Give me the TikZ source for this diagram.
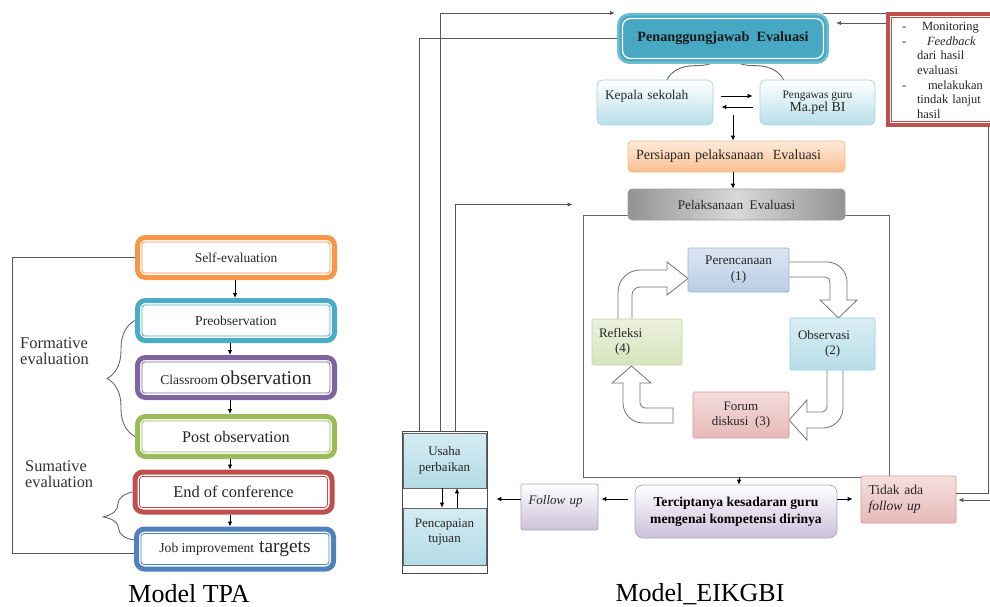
\documentclass[tikz,border=0pt]{standalone}
\usepackage{fontspec}
\setmainfont{Liberation Serif}
\usetikzlibrary{arrows.meta,decorations.pathreplacing}
\definecolor{oOrange}{HTML}{F79646}
\definecolor{oTeal}{HTML}{4BACC6}
\definecolor{oPurple}{HTML}{8064A2}
\definecolor{oGreen}{HTML}{9BBB59}
\definecolor{oRed}{HTML}{C0504D}
\definecolor{oBlue}{HTML}{4F81BD}
\definecolor{penFill}{HTML}{47A8C3}
\definecolor{kepB}{HTML}{B7DEE8}
\definecolor{kepD}{HTML}{A5D5E2}
\definecolor{perT}{HTML}{FDEADA}
\definecolor{perB}{HTML}{FAC090}
\definecolor{perD}{HTML}{F9B880}
\definecolor{terB}{HTML}{CCC0DA}
\definecolor{terD}{HTML}{B3A2C7}
\definecolor{tidT}{HTML}{F5E0DF}
\definecolor{tidB}{HTML}{E6B9B8}
\definecolor{tidD}{HTML}{D99694}
\definecolor{plT}{HTML}{DCE6F2}
\definecolor{plB}{HTML}{B9CDE5}
\definecolor{plD}{HTML}{95B3D7}
\definecolor{obT}{HTML}{DAEEF3}
\definecolor{obB}{HTML}{B7DEE8}
\definecolor{obD}{HTML}{93CDDD}
\definecolor{fdT}{HTML}{F2DCDB}
\definecolor{fdB}{HTML}{E6B9B8}
\definecolor{fdD}{HTML}{D99694}
\definecolor{rfT}{HTML}{EBF1DE}
\definecolor{rfB}{HTML}{D7E4BD}
\definecolor{rfD}{HTML}{C3D69B}
\definecolor{usT}{HTML}{D6ECF3}
\definecolor{usB}{HTML}{B2DBE6}
\newcommand\setfs[2]{\fontsize{#1}{#2}\selectfont}
\tikzset{
  arr/.style={-{Latex[length=5pt,width=4.5pt]}, line width=0.8pt, black},
  conn/.style={line width=0.9pt, black!65},
  arrc/.style={conn, -{Latex[length=5pt,width=4.5pt]}},
  tpabox/.style={draw, line width=5pt, rounded corners=8pt, minimum width=197pt,
    minimum height=40pt, fill=white, inner sep=0pt, text=black!85},
  gbox/.style={rounded corners=5pt, line width=0.7pt, inner sep=0pt, text=black!85},
  blk/.style={draw=black!55, fill=white, line width=0.8pt},
  brc/.style={decorate, decoration={brace, amplitude=#1}, line width=0.9pt, black!60},
}
\newcommand\tpabox[5]{%
  \node[tpabox, draw=#2] (#1) at (#3,#4) {#5};
  \draw[#2, line width=0.8pt, rounded corners=3pt]
    ([shift={(7pt,-7pt)}]#1.north west) rectangle ([shift={(-7pt,7pt)}]#1.south east);}
\begin{document}
\begin{tikzpicture}[x=1pt,y=-1pt]
\useasboundingbox (0,0) rectangle (990,607);

% ================= Model TPA =================
\tpabox{self}{oOrange}{236}{257.5}{\setfs{13.5}{15}Self-evaluation}
\tpabox{pre}{oTeal}{236}{320.5}{\setfs{13.6}{15}Preobservation}
\tpabox{cls}{oPurple}{236}{377.5}{{\setfs{13.5}{15}Classroom} {\setfs{19.5}{21}observation}}
\tpabox{post}{oGreen}{236}{436.5}{\setfs{16.2}{18}Post observation}
\tpabox{endc}{oRed}{233.5}{492}{\setfs{16.4}{18}End of conference}
\tpabox{job}{oBlue}{235}{549}{{\setfs{13.6}{15}Job improvement}\ \ {\setfs{19.4}{21}targets}}

\draw[arr] ([xshift=-1pt]self.south) -- ([xshift=-1pt]self.south |- pre.north);
\draw[arr] ([xshift=-6pt]pre.south) -- ([xshift=-6pt]pre.south |- cls.north);
\draw[arr] ([xshift=-6pt]cls.south) -- ([xshift=-6pt]cls.south |- post.north);
\draw[arr] ([xshift=-6pt]post.south) -- ([xshift=-6pt]post.south |- endc.north);
\draw[arr] ([xshift=-3.5pt]endc.south) -- ([xshift=-3.5pt]endc.south |- job.north);

\draw[conn] (self.west) -- ++(-123pt,0) |- ([yshift=-4.5pt]job.west);
\draw[brc=28pt] (post.west) -- (pre.west);
\draw[brc=30pt] ([yshift=9pt]job.west) -- (endc.west);

\node[anchor=west, align=left, inner sep=0pt, text=black!80, font=\setfs{16.5}{16}] (formlbl) at (20,351) {Formative\\evaluation};
\node[anchor=west, align=left, inner sep=0pt, text=black!80, font=\setfs{16.3}{16}] (sumlbl) at (25,474) {Sumative\\evaluation};
\node[inner sep=0pt, font=\setfs{26}{28}] (captpa) at (189,594) {Model TPA};

% ================= Model EIKGBI =================
\node[draw=black!60, line width=0.9pt, minimum width=306pt, minimum height=262pt, inner sep=0pt] (frame) at (736,346) {};

\node[gbox, top color=white, bottom color=kepB, draw=kepD, rounded corners=6pt,
  minimum width=116pt, minimum height=45pt, text width=100pt, align=left,
  font=\setfs{13.4}{15.5}] (kep) at (655,102.5) {Kepala sekolah\\\mbox{}};
\node[gbox, top color=white, bottom color=kepB, draw=kepD, rounded corners=6pt,
  minimum width=115pt, minimum height=45pt, align=center] (peng) at (817.5,102.5)
  {{\setfs{11.5}{14}Pengawas guru}\\{\setfs{13.8}{15}Ma.pel BI}};

\draw[brc=28pt] ([xshift=12pt]kep.north) -- ([xshift=-34pt]peng.north);

\node[draw=oTeal!80!white, line width=2.5pt, fill=penFill, rounded corners=11pt,
  minimum width=209.5pt, minimum height=48.5pt, inner sep=0pt, text=black!90,
  font=\bfseries\setfs{14.2}{16}] (pen) at (723,38.5) {Penanggungjawab\ \ Evaluasi};
\draw[white, line width=1.3pt, rounded corners=8pt]
  ([shift={(5.5pt,-5.5pt)}]pen.north west) rectangle ([shift={(-5.5pt,5.5pt)}]pen.south east);

\node[gbox, rounded corners=4pt, top color=perT, bottom color=perB, draw=perD,
  minimum width=217pt, minimum height=31pt, text width=201pt, align=left,
  font=\setfs{14}{16}] (pers) at (736.5,156.5) {Persiapan pelaksanaan\ \ Evaluasi};

\node[gbox, rounded corners=4pt, left color=gray!85, right color=gray!85, middle color=gray!30,
  draw=gray!75, minimum width=217pt, minimum height=31pt,
  font=\setfs{13.2}{15}] (pel) at (736.5,204.5) {Pelaksanaan\ \ Evaluasi};

% red box (cut off by the right edge)
\node[draw=oRed, line width=4pt, fill=white, minimum width=114pt, minimum height=111pt,
  inner sep=0pt, text width=86pt, align=left, text=black!85,
  font=\setfs{12.5}{14.6}] (red) at (945,69.5)
  {\mbox{}\\[-4.6pt]
   \mbox{\makebox[20pt][l]{-}Monitoring}\\
   \mbox{\makebox[25pt][l]{-}\textit{Feedback}}\\
   \mbox{\hspace*{15pt}dari hasil}\\
   \mbox{\hspace*{15pt}evaluasi}\\
   \mbox{\makebox[26pt][l]{-}melakukan}\\
   \mbox{\hspace*{15pt}tindak lanjut}\\
   \mbox{\hspace*{15pt}hasil}};
\draw[oRed, line width=0.8pt]
  ([shift={(5.5pt,-5.5pt)}]red.north west) rectangle ([shift={(-5.5pt,5.5pt)}]red.south east);

% cycle block arrows
\draw[blk] (618,321) -- (618,292) .. controls (618,279.9) and (627.9,270) .. (640,270)
  -- (667,270) -- (667,262) -- (688,278.5) -- (667,295) -- (667,287) -- (640,287)
  .. controls (635.6,287) and (632,290.6) .. (632,295) -- (632,321) -- cycle;
\draw[blk] (788,262) -- (827,262) .. controls (838,262) and (847,271) .. (847,282)
  -- (847,300) -- (857,300) -- (838.5,318) -- (820,300) -- (830,300) -- (830,282)
  .. controls (830,279.2) and (827.8,277) .. (825,277) -- (788,277) -- cycle;
\draw[blk] (843,368) -- (843,408) .. controls (843,419) and (834,428) .. (823,428)
  -- (807,428) -- (807,440) -- (789,420) -- (807,400) -- (807,412) -- (822,412)
  .. controls (824.8,412) and (827,409.8) .. (827,407) -- (827,368) -- cycle;
\draw[blk] (673,408) -- (645,408) .. controls (642.2,408) and (640,405.8) .. (640,403)
  -- (640,383) -- (651,383) -- (631.5,366) -- (612,383) -- (623,383) -- (623,403)
  .. controls (623,414) and (632,423) .. (643,423) -- (673,423) -- cycle;

% cycle boxes
\node[gbox, rounded corners=1.5pt, top color=plT, bottom color=plB, draw=plD,
  minimum width=101pt, minimum height=44pt, align=center, font=\setfs{13.2}{16}]
  (plan) at (738.5,270) {Perencanaan\\(1)};
\node[gbox, rounded corners=1.5pt, top color=obT, bottom color=obB, draw=obD,
  minimum width=85pt, minimum height=52pt, text width=69pt, align=left, font=\setfs{13}{15.5}]
  (obs) at (832.5,344) {Observasi\\\hspace*{27pt}(2)};
\node[gbox, rounded corners=1.5pt, top color=fdT, bottom color=fdB, draw=fdD,
  minimum width=96pt, minimum height=46pt, align=center, font=\setfs{13}{15.5}]
  (forum) at (741,415) {Forum\\diskusi\ \ (3)};
\node[gbox, rounded corners=1.5pt, top color=rfT, bottom color=rfB, draw=rfD,
  minimum width=90pt, minimum height=46pt, text width=76pt, align=left, font=\setfs{13}{15.5}]
  (refl) at (637,342) {Refleksi\\\hspace*{16pt}(4)};

% bottom row
\node[gbox, rounded corners=8pt, top color=white, bottom color=terB, draw=terD,
  minimum width=202pt, minimum height=53pt, align=center, text=black,
  font=\bfseries\setfs{13.6}{17}] (ter) at (736,511.5)
  {Terciptanya kesadaran guru\\mengenai kompetensi dirinya};
\node[gbox, rounded corners=2pt, top color=tidT, bottom color=tidB, draw=tidD,
  minimum width=95pt, minimum height=47pt, text width=80pt, align=left,
  font=\setfs{13.6}{16}] (tidak) at (908.5,499.5) {Tidak ada\\\textit{follow up}};
\node[gbox, rounded corners=2pt, top color=white, bottom color=terB, draw=terD,
  minimum width=77pt, minimum height=46pt, text width=62pt, align=left,
  font=\setfs{13}{15}] (fol) at (559.5,507) {\textit{Follow up}\\\mbox{}};

% composite Usaha / Pencapaian
\node[draw=black!70, line width=0.8pt, minimum width=85pt, minimum height=142pt, inner sep=0pt] (comp) at (444.5,502) {};
\node[draw=black!60, line width=0.6pt, top color=usT, bottom color=usB, minimum width=83pt,
  minimum height=55pt, inner sep=0pt, align=center, text=black!85, font=\setfs{13}{15.5}]
  (usaha) at (444.5,460.5) {Usaha\\perbaikan};
\node[draw=black!60, line width=0.6pt, top color=usT, bottom color=usB, minimum width=83pt,
  minimum height=57pt, inner sep=0pt, align=center, text=black!85, font=\setfs{13}{15.5}]
  (penc) at (444.5,536.5) {Pencapaian\\tujuan\\[-4pt]\mbox{}};
\draw[arr] ([xshift=-2.5pt]usaha.south) -- ([xshift=-2.5pt]usaha.south |- penc.north);
\draw[arr] ([xshift=12.5pt]penc.north) -- ([xshift=12.5pt]penc.north |- usaha.south);

% connectors
\draw[arr, shorten <=8pt, shorten >=7pt] ([yshift=6.5pt]kep.east) -- ([yshift=6.5pt]kep.east -| peng.west);
\draw[arr, shorten <=7pt, shorten >=8pt] ([yshift=-4.5pt]peng.west) -- ([yshift=-4.5pt]peng.west -| kep.east);
\coordinate (kd) at (733,115);
\draw[arr] (kd) -- (kd |- pers.north);
\draw[arr] ([xshift=-3.5pt]pers.south) -- ([xshift=-3.5pt]pers.south |- pel.north);
\draw[arr] ([xshift=3pt]frame.south) -- ([xshift=3pt]frame.south |- ter.north);
\draw[arr, shorten >=8pt] ([yshift=12.5pt]ter.east) -- ([yshift=12.5pt]ter.east -| tidak.west);
\draw[arr, shorten <=7pt, shorten >=3pt] ([yshift=12.5pt]ter.west) -- ([yshift=12.5pt]ter.west -| fol.east);
\draw[arr, shorten >=9pt] ([yshift=8pt]fol.west) -- ([yshift=8pt]fol.west -| comp.east);

\draw[conn] (pen.west) -| ([xshift=18pt]comp.north west);
\draw[arrc, shorten >=2pt] ([xshift=39pt]comp.north west) |- ([yshift=25.5pt]pen.west);
\draw[arrc, shorten >=55pt] ([xshift=54pt]comp.north west) |- (pel.west);

\draw[conn] ([xshift=-6pt]pen.north east) -- (red.north west |- pen.north east);
\coordinate (ra) at ([yshift=46.5pt]red.west);
\draw[arrc, shorten >=7pt] (ra) -- (pen.east |- ra);
\draw[conn] ([xshift=102pt]red.south west) |- ([yshift=6.5pt]tidak.east);
\coordinate (rin) at (993,500);
\draw[arrc, shorten >=2pt] (rin) -- (rin -| tidak.east);

\node[inner sep=0pt, font=\setfs{26}{28}] (capeik) at (700,594) {Model\_EIKGBI};
\end{tikzpicture}
\end{document}
